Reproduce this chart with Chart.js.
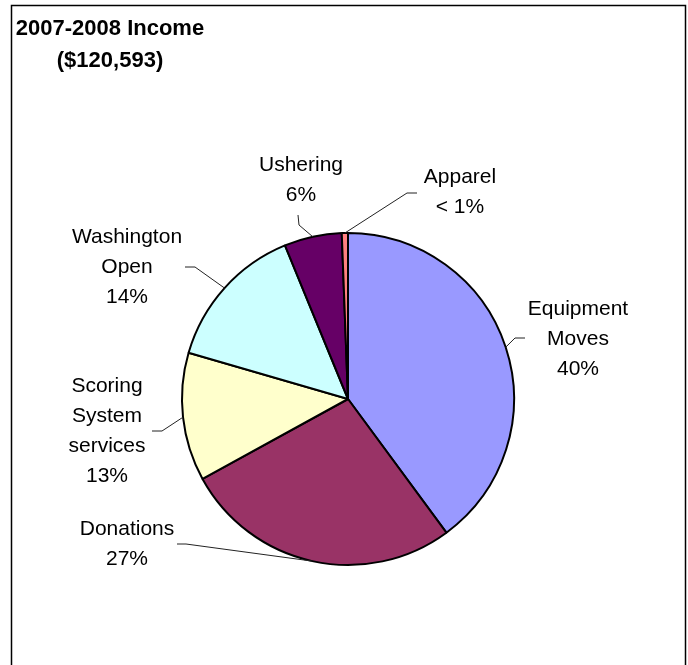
<!DOCTYPE html>
<html>
<head>
<meta charset="utf-8">
<script src="https://cdn.jsdelivr.net/npm/chart.js@4/dist/chart.umd.min.js"></script>
<style>
  html, body { margin: 0; padding: 0; background: #fff; }
  #wrap { width: 688px; height: 665px; }
</style>
</head>
<body>
<div id="wrap"><canvas id="chart-income" width="688" height="665"></canvas></div>
<script>
/*
  ==================================================
  ====================== DATA ======================
  ==================================================
*/

let categories = ['Equipment Moves', 'Donations', 'Scoring System services', 'Washington Open', 'Ushering', 'Apparel'];
let labelLines = [['Equipment', 'Moves'], ['Donations'], ['Scoring', 'System', 'services'], ['Washington', 'Open'], ['Ushering'], ['Apparel']];
let shares = [39.9, 27.1, 12.5, 14.3, 5.6, 0.6];
let titleLines = ['2007-2008 Income', '($120,593)'];

let sliceColors = ['#9999FF', '#993366', '#FFFFCC', '#CCFFFF', '#660066', '#FF8080'];

// where each label sits, px offsets from the pie centre
// text = centre x / first baseline, bend = elbow of the leader, tail = short stub toward the text
let labelPlace = [
  { text: [230, -84], bend: [167, -61], tail: [10, 0] },
  { text: [-221, 136], bend: [-162, 145], tail: [-9, 0] },
  { text: [-241, -7], bend: [-186, 32], tail: [-10, 0] },
  { text: [-221, -156], bend: [-153, -132], tail: [-10, 0] },
  { text: [-47, -228], bend: [-49, -174], tail: [-1, -10] },
  { text: [112, -216], bend: [59, -206], tail: [10, 0] },
];

let fontFamily = "'Liberation Sans', Arial, sans-serif";
let pctText = v => v < 1 ? '< 1%' : Math.round(v) + '%';

/*
  ==================================================
  ===================== PLUGINS =====================
  ==================================================
*/

let frameTitle = {
  id: 'frameTitle',
  afterDraw(chart) {
    let ctx = chart.ctx;
    ctx.save();

    // outer frame
    ctx.strokeStyle = '#000';
    ctx.lineWidth = 1.5;
    ctx.strokeRect(11.5, 5.5, 674, 700);

    // title
    ctx.fillStyle = '#000';
    ctx.font = `bold 22px ${fontFamily}`;
    ctx.textAlign = 'center';
    ctx.textBaseline = 'alphabetic';
    titleLines.forEach((t, i) => ctx.fillText(t, 110, 35 + i * 32));

    ctx.restore();
  }
};

let sliceLabels = {
  id: 'sliceLabels',
  afterDraw(chart) {
    let ctx = chart.ctx;
    let arcs = chart.getDatasetMeta(0).data;
    ctx.save();

    arcs.forEach((arc, i) => {
      let { x, y, outerRadius, startAngle, endAngle } = arc.getProps(['x', 'y', 'outerRadius', 'startAngle', 'endAngle'], true);
      let mid = (startAngle + endAngle) / 2;
      let place = labelPlace[i];

      /* ==================== LEADER ==================== */

      let ex = x + Math.cos(mid) * outerRadius;
      let ey = y + Math.sin(mid) * outerRadius;
      let bx = x + place.bend[0];
      let by = y + place.bend[1];

      ctx.strokeStyle = '#222';
      ctx.lineWidth = 1;
      ctx.beginPath();
      ctx.moveTo(bx + place.tail[0], by + place.tail[1]);
      ctx.lineTo(bx, by);
      ctx.lineTo(ex, ey);
      ctx.stroke();

      /* ===================== TEXT ===================== */

      let lines = [...labelLines[i], pctText(shares[i])];
      ctx.fillStyle = '#000';
      ctx.font = `21px ${fontFamily}`;
      ctx.textAlign = 'center';
      ctx.textBaseline = 'alphabetic';
      lines.forEach((t, k) => ctx.fillText(t, x + place.text[0], y + place.text[1] + k * 30));
    });

    ctx.restore();
  }
};

/*
  ==================================================
  ====================== CHART ======================
  ==================================================
*/

let ctxIncome = document.getElementById('chart-income').getContext('2d');

let chartIncome = new Chart(ctxIncome, {
  type: 'pie',
  data: {
    labels: categories,
    datasets: [{
      data: shares,
      backgroundColor: sliceColors,
      borderColor: '#000',
      borderWidth: 2,
    }]
  },
  options: {
    responsive: false,
    animation: false,
    devicePixelRatio: 1,
    layout: { padding: { left: 181, right: 173, top: 232, bottom: 99 } },
    plugins: {
      legend: { display: false },
      title: { display: false },
      tooltip: { enabled: false },
    }
  },
  plugins: [sliceLabels, frameTitle]
});
</script>
</body>
</html>
